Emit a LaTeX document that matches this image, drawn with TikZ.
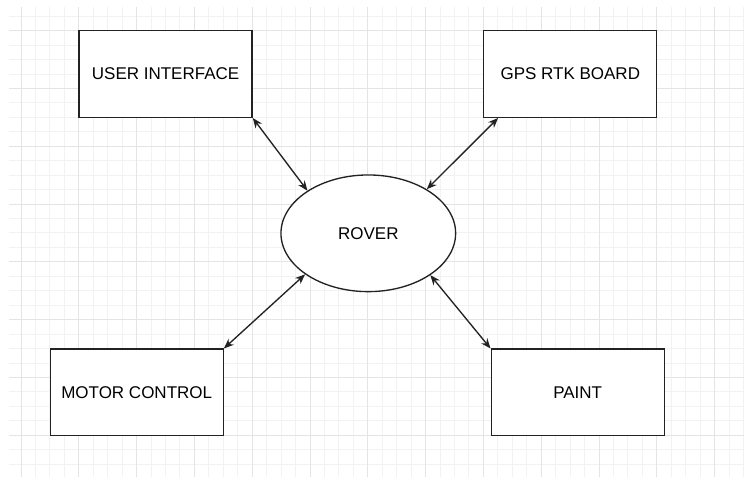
\documentclass[tikz,border=0pt]{standalone}
\usepackage{fontspec}
\setmainfont{Liberation Sans}
\usetikzlibrary{shapes.geometric,arrows.meta}
\definecolor{gridmajor}{HTML}{E4E4E4}
\definecolor{gridminor}{HTML}{F2F2F2}
\definecolor{inkc}{HTML}{222222}
\tikzset{
  blockbox/.style={draw=inkc, line width=1pt, fill=white, rectangle, minimum width=129.75pt, minimum height=65pt, inner sep=0pt, font=\fontsize{12.75pt}{15pt}\selectfont, text=black},
  roverell/.style={draw=inkc, line width=1pt, fill=white, ellipse, minimum width=131pt, minimum height=87.5pt, inner sep=0pt, font=\fontsize{12.75pt}{15pt}\selectfont, text=black},
  linkarrow/.style={draw=inkc, line width=1pt, {Stealth[length=7.5pt,width=6pt]}-{Stealth[length=7.5pt,width=6pt]}}
}
\begin{document}
\begin{tikzpicture}[x=0.75pt,y=-0.75pt]
\useasboundingbox (0,0) rectangle (744,477);
\fill[white] (0,0) rectangle (744,477);
% minor grid
\foreach \i in {0,...,50} {
  \draw[gridminor, line width=0.75pt] ({21+14.45*\i},7) -- ({21+14.45*\i},477);
}
\foreach \j in {-1,...,30} {
  \draw[gridminor, line width=0.75pt] (9,{30.7+14.45*\j}) -- (744,{30.7+14.45*\j});
}
% major grid
\foreach \i in {0,...,12} {
  \draw[gridmajor, line width=0.75pt] ({21+57.8*\i},7) -- ({21+57.8*\i},477);
}
\foreach \j in {0,...,7} {
  \draw[gridmajor, line width=0.75pt] (9,{30.7+57.8*\j}) -- (744,{30.7+57.8*\j});
}
% nodes
\node[blockbox] (ui) at (165.6,74) {USER INTERFACE};
\node[blockbox] (gps) at (570.3,74) {GPS RTK BOARD};
\node[blockbox] (motor) at (136.7,392.5) {MOTOR CONTROL};
\node[blockbox] (paint) at (577.7,392.5) {PAINT};
\node[roverell] (rover) at (368.3,233.3) {ROVER};
\coordinate (gpsend) at ([xshift=11.25pt]gps.south west);
% connectors
\draw[linkarrow] (rover.145) -- (ui.south east);
\draw[linkarrow] (rover.37) -- (gpsend);
\draw[linkarrow] (rover.213) -- (motor.north east);
\draw[linkarrow] (rover.326) -- (paint.north west);
\end{tikzpicture}
\end{document}
